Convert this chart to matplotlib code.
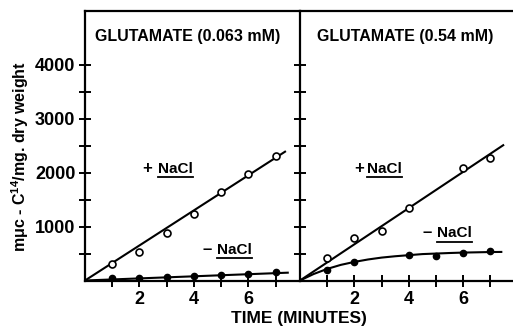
import matplotlib
matplotlib.use("Agg")
import matplotlib.pyplot as plt
from matplotlib.lines import Line2D

plt.rcParams['font.family'] = ['Liberation Sans', 'DejaVu Sans']
plt.rcParams['font.weight'] = 'bold'
plt.rcParams['mathtext.fontset'] = 'custom'
plt.rcParams['mathtext.rm'] = 'Liberation Sans:bold'
plt.rcParams['mathtext.bf'] = 'Liberation Sans:bold'

# time points (minutes) and uptake (mμc-C14 / mg dry weight)
t_left = [1, 2, 3, 4, 5, 6, 7]
left_plus = [300, 530, 880, 1230, 1640, 1970, 2310]
left_minus = [40, 50, 70, 80, 100, 120, 150]
left_plus_fit_t = [0, 7.35]
left_plus_fit = [0, 2390]
left_minus_fit_t = [0, 7.45]
left_minus_fit = [0, 145]

t_right_plus = [1, 2, 3, 4, 6, 7]
right_plus = [415, 780, 910, 1350, 2080, 2270]
t_right_minus = [1, 2, 4, 5, 6, 7]
right_minus = [200, 340, 470, 450, 510, 545]
right_plus_fit_t = [0, 7.47]
right_plus_fit = [0, 2510]
right_minus_fit_t = [0, 0.5, 1, 1.5, 2, 2.5, 3, 3.5, 4, 4.5, 5, 5.5, 6, 6.5, 7, 7.4]
right_minus_fit = [0, 120, 215, 290, 345, 390, 425, 450, 470, 490, 500, 510, 518, 523, 528, 530]

titles = ["GLUTAMATE (0.063 mM)", "GLUTAMATE (0.54 mM)"]
ytick_vals = [500, 1000, 1500, 2000, 2500, 3000, 3500, 4000]
ytick_labels = ["", "1000", "", "2000", "", "3000", "", "4000"]
xtick_vals = [1, 2, 3, 4, 5, 6, 7]
xtick_labels = ["", "2", "", "4", "", "6", ""]

W, H = 513, 328
fig = plt.figure(figsize=(W / 100, H / 100), dpi=100)
bot = (H - 280.5) / H
hgt = (280.5 - 11) / H
ax1 = fig.add_axes([85 / W, bot, 215 / W, hgt])
ax2 = fig.add_axes([300 / W, bot, 213 / W, hgt])

lw = 1.5
for ax, xmax in ((ax1, 7.9), (ax2, 7.83)):
    ax.set_xlim(0, xmax)
    ax.set_ylim(0, 5000)
    for s in ax.spines.values():
        s.set_linewidth(1.6)
    ax.spines['right'].set_visible(False)
    ax.set_xticks(xtick_vals)
    ax.set_xticklabels(xtick_labels)
    ax.set_yticks(ytick_vals)
    ax.tick_params(direction='inout', length=9, width=1.4, labelsize=13, pad=2.5)
    ax.tick_params(axis='x', pad=3)

ax1.set_yticklabels(ytick_labels)
ax2.set_yticklabels([])

# left panel
ax1.plot(left_plus_fit_t, left_plus_fit, color='black', lw=lw)
ax1.plot(left_minus_fit_t, left_minus_fit, color='black', lw=lw)
ax1.plot(t_left, left_plus, 'o', ms=5, mfc='white', mec='black', mew=1.2)
ax1.plot(t_left, left_minus, 'o', ms=4.5, color='black')

# right panel
ax2.plot(right_plus_fit_t, right_plus_fit, color='black', lw=lw)
ax2.plot(right_minus_fit_t, right_minus_fit, color='black', lw=lw)
ax2.plot(t_right_plus, right_plus, 'o', ms=5, mfc='white', mec='black', mew=1.2)
ax2.plot(t_right_minus, right_minus, 'o', ms=4.5, color='black')

ax1.text(0.045, 0.889, titles[0], transform=ax1.transAxes, fontsize=11.5, va='baseline')
ax2.text(0.08, 0.889, titles[1], transform=ax2.transAxes, fontsize=11.5, va='baseline')

# (axes, sign, x, y, gap) of the +/- NaCl labels
salt_labels = [(ax1, "+", 2.1, 2000, 0.57), (ax1, "\u2013", 4.3, 500, 0.55),
               (ax2, "+", 2.0, 2000, 0.45), (ax2, "\u2013", 4.5, 800, 0.55)]
name_texts = []
for ax, sign, x, y, gap in salt_labels:
    ax.text(x, y, sign, fontsize=12, va='baseline')
    name_texts.append(ax.text(x + gap, y, "NaCl", fontsize=11, va='baseline'))

fig.text(20 / W, 1 - 157 / H, r"mμc - C$^{14}$/mg. dry weight", rotation=90,
         ha='center', va='center', fontsize=11.5)
fig.text(299 / W, 1 - 318.5 / H, "TIME (MINUTES)", ha='center', va='center', fontsize=12.5)

# underline the NaCl words
fig.canvas.draw()
r = fig.canvas.get_renderer()
for t in name_texts:
    bb = t.get_window_extent(r)
    yy = (bb.y0 - 1.5) / H
    fig.add_artist(Line2D([bb.x0 / W, bb.x1 / W], [yy, yy], color='black', lw=1.3,
                          transform=fig.transFigure))

fig.savefig("out.png", dpi=100)
